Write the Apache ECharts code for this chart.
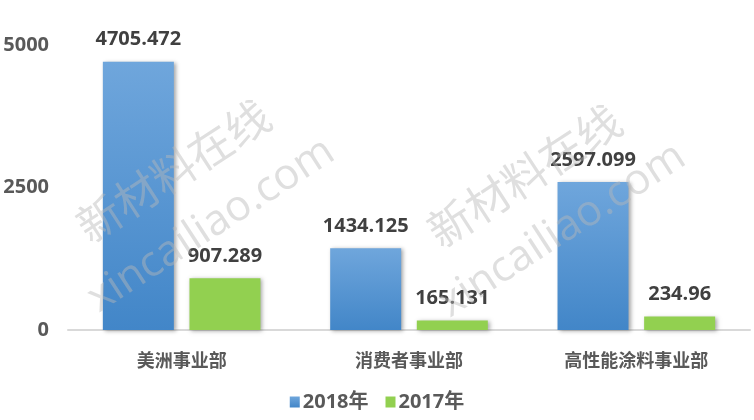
<!DOCTYPE html>
<html><head><meta charset="utf-8">
<script src="https://cdn.jsdelivr.net/npm/echarts@6/dist/echarts.min.js"></script>
<style>html,body{margin:0;padding:0;background:#fff}#c{width:754px;height:420px}</style>
</head><body><div id="c"></div>
<script>
var categories = ['美洲事业部', '消费者事业部', '高性能涂料事业部'];
var series2018 = [4705.472, 1434.125, 2597.099];
var series2017 = [907.289, 165.131, 234.96];
var seriesNames = ['2018年', '2017年'];
var yTicks = [0, 2500, 5000];

var FONT = '"Open Sans","Noto Sans CJK SC",sans-serif';
var chart = echarts.init(document.getElementById('c'));
function wm(x, y) {
  return {
    type: 'group', x: x, y: y, rotation: 33 * Math.PI / 180, silent: true,
    children: [
      { type: 'text', z: 5, style: { x: 0, y: 0, text: '新材料在线', fontSize: 44, fontFamily: '"Noto Sans CJK SC"', fill: 'rgba(185,185,185,0.45)', textVerticalAlign: 'bottom' } },
      { type: 'text', z: 5, style: { x: -30, y: 66, text: 'xincailiao.com', fontSize: 43, fontFamily: '"Open Sans"', fill: 'rgba(185,185,185,0.45)', textVerticalAlign: 'bottom' } }
    ]
  };
}
chart.setOption({
  animation: false,
  grid: { left: 68, right: 4, top: 45, bottom: 90 },
  legend: {
    bottom: 3, left: 'center', itemWidth: 10, itemHeight: 11, itemGap: 17, icon: 'rect',
    textStyle: { fontSize: 20, fontWeight: 'bold', color: '#595959', fontFamily: FONT, padding: [0, 0, 0, -2] },
    data: seriesNames
  },
  xAxis: {
    type: 'category', data: categories,
    axisLine: { lineStyle: { color: '#d9d9d9', width: 2 } },
    axisTick: { show: false },
    axisLabel: { fontSize: 18, fontWeight: 'bold', color: '#595959', margin: 21, fontFamily: '"Noto Sans CJK SC",sans-serif' }
  },
  yAxis: {
    type: 'value', min: 0, max: 5000, interval: 2500,
    axisLine: { show: false }, axisTick: { show: false }, splitLine: { show: false },
    axisLabel: { fontSize: 20, fontWeight: 'bold', color: '#595959', margin: 19, fontFamily: FONT,
      formatter: function (v) { return yTicks.indexOf(v) >= 0 ? String(v) : ''; } }
  },
  series: [
    { name: seriesNames[0], type: 'bar', data: series2018, barWidth: 71, barGap: '22%', z: 2,
      itemStyle: {
        color: new echarts.graphic.LinearGradient(0, 0, 0, 1, [{ offset: 0, color: '#6fa6dc' }, { offset: 1, color: '#4286c8' }]),
        shadowColor: 'rgba(0,0,0,0.35)', shadowBlur: 4, shadowOffsetX: 2, shadowOffsetY: 1
      },
      label: { show: true, position: 'top', distance: 12, fontSize: 20, fontWeight: 'bold', color: '#404040', fontFamily: FONT }
    },
    { name: seriesNames[1], type: 'bar', data: series2017, barWidth: 71, z: 2,
      itemStyle: { color: '#92d050', shadowColor: 'rgba(0,0,0,0.35)', shadowBlur: 4, shadowOffsetX: 2, shadowOffsetY: 1 },
      label: { show: true, position: 'top', distance: 12, fontSize: 20, fontWeight: 'bold', color: '#404040', fontFamily: FONT }
    }
  ],
  graphic: [wm(93, 249), wm(444, 254)]
});
</script></body></html>
